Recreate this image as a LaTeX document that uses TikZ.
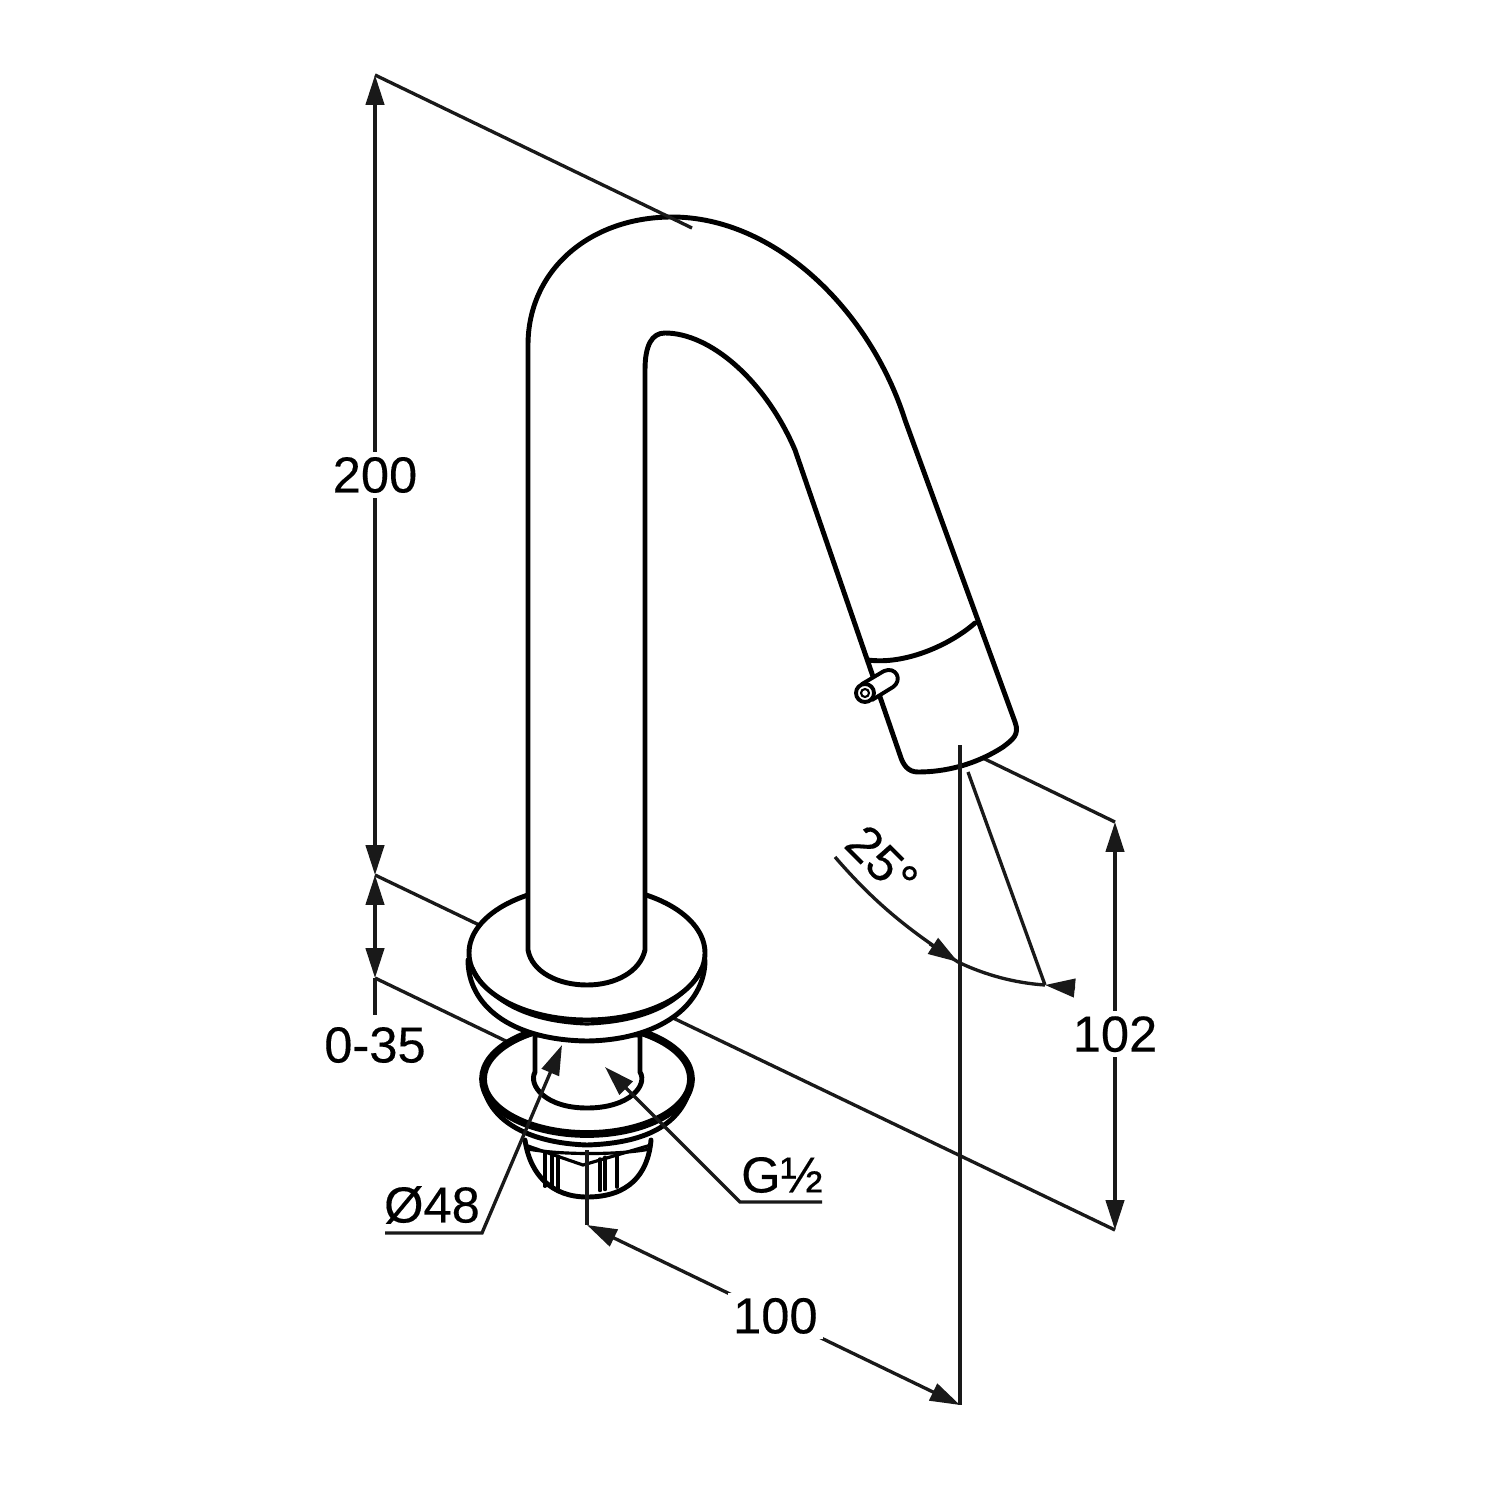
\documentclass[tikz,border=0pt]{standalone}
\usepackage{fontspec}
\setmainfont{Liberation Sans}[FakeBold=0.3]
\usetikzlibrary{arrows.meta}
\tikzset{
	body/.style={line width=1.4pt, line join=round, line cap=round, fill=white},
	thin body/.style={line width=0.9pt, line cap=round},
	dim/.style={line width=0.95pt, draw=black!90},
	label/.style={font=\fontsize{14.4}{16}\selectfont, fill=white, inner sep=1.5pt},
	freelabel/.style={font=\fontsize{14.4}{16}\selectfont, inner sep=0pt}
}
\begin{document}
\begin{tikzpicture}[x=0.01cm,y=-0.01cm,>={Triangle[length=8.5pt,width=5.2pt]}]
	\useasboundingbox (0,0) rectangle (1500,1500);
	% named points of the dimensions
	\coordinate (top) at (375,75);
	\coordinate (base) at (375,875);
	\coordinate (low) at (375,978);
	\coordinate (farend) at (1115,1230);
	\coordinate (tipend) at (1115,822);
	% extension lines behind the tap
	\draw[dim] (base)--(farend);
	\draw[dim] (low)--(510,1043);
	\draw[dim] (960,747)--(tipend);
	% dimensions
	\draw[dim,<->] (top)--(base) node[midway,label] (h200) {200};
	\draw[dim,<->] (base)--(low);
	\draw[dim] (low)--(375,1015);
	\node[label] (h035) at (375,1045) {0-35};
	\draw[dim,<->] (tipend)--(farend) node[pos=0.52,label] (h102) {102};
	% nut
	\draw[body] (525,1140) .. controls (530,1175) and (552,1197) .. (587,1197) .. controls (628,1197) and (648,1175) .. (651,1140);
	\draw[thin body] (525,1145) -- (583,1165) -- (651,1145);
	\foreach \s in {545,552,558,600,605,617}
	\draw[thin body] (\s,{1165-0.36*abs(\s-583)})--(\s,{1194-0.2*abs(\s-583)});
	% washer
	\draw[body] (483,1085) .. controls (490,1122) and (530,1143) .. (587,1145) .. controls (650,1143) and (685,1122) .. (692,1080) -- cycle;
	\draw[body,line width=2.2pt] (587,1079) ellipse (104 and 55);
	\draw[thin body] (528,1149) .. controls (560,1155) and (620,1155) .. (650,1149);
	% stem
	\draw[body] (535,1035) -- (535,1072) .. controls (528,1085) and (545,1108) .. (587,1108) .. controls (630,1108) and (648,1085) .. (640,1072) -- (640,1035) -- cycle;
	% flange
	\draw[body] (468,960) .. controls (468,1005) and (510,1040) .. (587,1041) .. controls (660,1040) and (705,1005) .. (705,960) -- cycle;
	\draw[body] (587,953) ellipse (118 and 67);
	\draw[thin body] (473,968) .. controls (490,1003) and (530,1022) .. (587,1024) .. controls (645,1022) and (685,1003) .. (701,968);
	% spout
	\draw[body] (528,950) -- (528,345) .. controls (528,270) and (590,217) .. (672,217)
		.. controls (775,217) and (870,310) .. (905,420) -- (1015,722)
		.. controls (1020,735) and (1012,740) .. (1003,747)
		.. controls (975,765) and (945,772) .. (918,772)
		.. controls (908,772) and (903,765) .. (900,755)
		-- (795,450) .. controls (765,380) and (710,333) .. (665,333)
		.. controls (652,333) and (645,345) .. (645,370) -- (645,950)
		.. controls (640,972) and (615,985) .. (587,985)
		.. controls (558,985) and (532,972) .. (528,950) -- cycle;
	\draw[body,fill=none] (868,660) .. controls (905,665) and (950,645) .. (975,623);
	% pin
	\draw[body,line width=1.1pt] (862,684) -- (884,671) .. controls (896,666) and (903,680) .. (893,687) -- (872,700) -- cycle;
	\draw[body,line width=1.1pt] (865,693) circle (9);
	\draw[thin body,line width=0.6pt] (865,693) circle (4);
	% leaders drawn over the tap
	\draw[dim] (top)--(692,228);
	\draw[dim] (960,745)--(960,1405);
	\draw[dim] (587,1150)--(587,1225);
	\draw[dim,<->] (587,1225)--(960,1405) node[pos=0.505,label] (w100) {100};
	\draw[dim] (968,772)--(1045,985);
	\draw[dim] (835,857) .. controls (868,895) and (900,925) .. (958,962) .. controls (985,975) and (1015,983) .. (1045,985);
	\draw[dim,<-] (958,962)--(930,944);
	\draw[dim,<-] (1045,985)--(1075,988);
	\node[freelabel,rotate=-45] (ang) at (882,861) {25°};
	\draw[dim,->] (385,1233)--(482,1233)--(562,1045);
	\node[freelabel] (dia) at (432,1205) {Ø48};
	\draw[dim,->] (822,1202)--(740,1202)--(605,1067);
	\node[freelabel] (thr) at (782,1175) {G½};
\end{tikzpicture}
\end{document}
